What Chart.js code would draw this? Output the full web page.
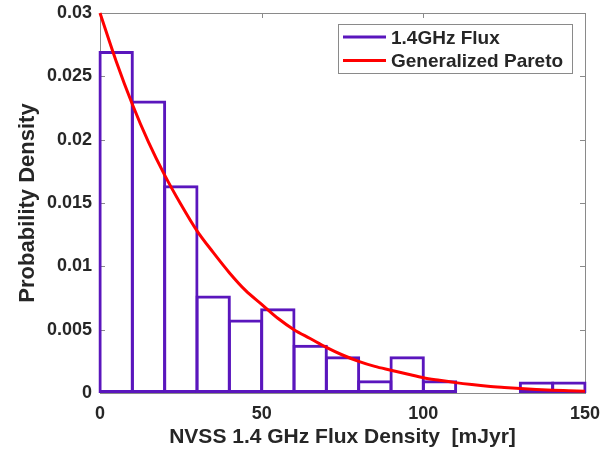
<!DOCTYPE html>
<html>
<head>
<meta charset="utf-8">
<title>NVSS 1.4 GHz flux density distribution</title>
<script src="https://cdn.jsdelivr.net/npm/chart.js@4/dist/chart.umd.min.js"></script>
<style>
  html, body { margin: 0; padding: 0; background: #fff; }
  canvas { display: block; }
</style>
</head>
<body>
<canvas id="fluxChart" width="603" height="449"></canvas>
<script>
// histogram bins (10 mJy wide) and their normalised counts
const binCenters = [5, 15, 25, 35, 45, 55, 65, 75, 85, 95, 105, 115, 125, 135, 145];
const fluxDensity = [0.0270, 0.0231, 0.0164, 0.0077, 0.0058, 0.0067, 0.0038, 0.0029,
                     0.0010, 0.0029, 0.0010, 0, 0, 0.0009, 0.0009];

// fitted generalized Pareto pdf, sampled every 5 mJy
const fitFlux = [0, 5, 10, 15, 20, 25, 30, 35, 40, 45, 50, 55, 60, 65, 70, 75, 80,
                 85, 90, 95, 100, 105, 110, 115, 120, 125, 130, 135, 140, 145, 150];
const fitDensity = [0.0300, 0.0262, 0.0228, 0.0198, 0.0172, 0.0149, 0.0128, 0.0111,
                    0.0095, 0.0081, 0.0070, 0.0059, 0.0050, 0.0043, 0.0036, 0.0030,
                    0.0025, 0.0021, 0.0018, 0.0015, 0.0012, 0.0010, 0.00082, 0.00067,
                    0.00054, 0.00044, 0.00035, 0.00028, 0.00022, 0.00018, 0.00014];

const xTicks = [0, 50, 100, 150];
const xTickLabels = ['0', '50', '100', '150'];
const yTicks = [0, 0.005, 0.01, 0.015, 0.02, 0.025, 0.03];
const yTickLabels = ['0', '0.005', '0.01', '0.015', '0.02', '0.025', '0.03'];

const seriesNames = ['1.4GHz Flux', 'Generalized Pareto'];

const histColor = '#5a16bd';
const fitColor = '#ff0000';
const axisColor = '#8a8a8a';
const textColor = '#262626';
const fontFamily = '"Liberation Sans", Arial, Helvetica, sans-serif';

// box around the plot with inward tick marks on all four sides
const axesBox = {
    id: 'axesBox',
    beforeDatasetsDraw(chart) {
        const ctx = chart.ctx;
        const a = chart.chartArea;
        const xs = chart.scales.x, ys = chart.scales.y;
        const len = 5;
        ctx.save();
        ctx.strokeStyle = axisColor;
        ctx.lineWidth = 1;
        ctx.strokeRect(Math.round(a.left) + 0.5, Math.round(a.top) + 0.5,
                       Math.round(a.right - a.left), Math.round(a.bottom - a.top));
        ctx.beginPath();
        xs.ticks.forEach(t => {
            const px = Math.round(xs.getPixelForValue(t.value)) + 0.5;
            ctx.moveTo(px, a.bottom); ctx.lineTo(px, a.bottom - len);
            ctx.moveTo(px, a.top); ctx.lineTo(px, a.top + len);
        });
        ys.ticks.forEach(t => {
            const py = Math.round(ys.getPixelForValue(t.value)) + 0.5;
            ctx.moveTo(a.left, py); ctx.lineTo(a.left + len, py);
            ctx.moveTo(a.right, py); ctx.lineTo(a.right - len, py);
        });
        ctx.stroke();
        ctx.restore();
    }
};

// legend drawn inside the top right corner of the plot
const insideLegend = {
    id: 'insideLegend',
    afterDraw(chart) {
        const ctx = chart.ctx;
        const a = chart.chartArea;
        const w = 234, h = 49;
        const x0 = a.right - 13 - w, y0 = a.top + 11;
        ctx.save();
        ctx.fillStyle = '#fff';
        ctx.fillRect(x0, y0, w, h);
        ctx.strokeStyle = axisColor;
        ctx.lineWidth = 1;
        ctx.strokeRect(x0 + 0.5, y0 + 0.5, w, h);
        ctx.font = 'bold 19px ' + fontFamily;
        ctx.textBaseline = 'middle';
        ctx.textAlign = 'left';
        chart.data.datasets.forEach((ds, i) => {
            const y = y0 + 13 + i * 23.5;
            ctx.strokeStyle = ds.borderColor;
            ctx.lineWidth = 3;
            ctx.beginPath();
            ctx.moveTo(x0 + 5, y);
            ctx.lineTo(x0 + 48, y);
            ctx.stroke();
            ctx.fillStyle = textColor;
            ctx.fillText(ds.label, x0 + 53, y + 1.5);
        });
        ctx.restore();
    }
};

const ctx = document.getElementById('fluxChart').getContext('2d');
const fluxChart = new Chart(ctx, {
    type: 'bar',
    data: {
        datasets: [{
            type: 'bar',
            label: seriesNames[0],
            data: binCenters.map((x, i) => ({ x: x, y: fluxDensity[i] })),
            backgroundColor: 'rgba(255,255,255,0)',
            borderColor: histColor,
            borderWidth: 3,
            borderSkipped: false,
            inflateAmount: 0,
            barPercentage: 1.093,
            categoryPercentage: 1,
            clip: 4,
            order: 2
        }, {
            type: 'line',
            label: seriesNames[1],
            data: fitFlux.map((x, i) => ({ x: x, y: fitDensity[i] })),
            borderColor: fitColor,
            borderWidth: 3,
            pointRadius: 0,
            fill: false,
            cubicInterpolationMode: 'monotone',
            clip: 4,
            order: 1
        }]
    },
    options: {
        responsive: false,
        animation: false,
        devicePixelRatio: 1,
        layout: { padding: { top: 13, right: 18, left: 0, bottom: 0 } },
        plugins: {
            legend: { display: false },
            tooltip: { enabled: false }
        },
        scales: {
            x: {
                type: 'linear',
                min: 0,
                max: 150,
                offset: false,
                grid: { display: false, drawTicks: false },
                border: { display: false },
                afterBuildTicks: s => { s.ticks = xTicks.map(v => ({ value: v })); },
                afterFit: s => {
                    s.height = 56;
                    s.paddingLeft = 0;
                    s.paddingRight = 0;
                },
                ticks: {
                    color: textColor,
                    font: { family: fontFamily, size: 18, weight: 'bold' },
                    padding: 10,
                    maxRotation: 0,
                    autoSkip: false,
                    callback: (v, i) => xTickLabels[i]
                },
                title: {
                    display: true,
                    text: 'NVSS 1.4 GHz Flux Density  [mJyr]',
                    color: textColor,
                    font: { family: fontFamily, size: 21, weight: 'bold', lineHeight: 1.1 },
                    padding: { top: 0, bottom: 0 }
                }
            },
            y: {
                type: 'linear',
                min: 0,
                max: 0.03,
                grid: { display: false, drawTicks: false },
                border: { display: false },
                afterBuildTicks: s => { s.ticks = yTicks.map(v => ({ value: v })); },
                afterFit: s => {
                    s.width = 100;
                    s.paddingTop = 0;
                    s.paddingBottom = 0;
                },
                ticks: {
                    color: textColor,
                    font: { family: fontFamily, size: 18, weight: 'bold' },
                    padding: 8,
                    autoSkip: false,
                    callback: (v, i) => yTickLabels[i]
                },
                title: {
                    display: true,
                    text: 'Probability Density',
                    color: textColor,
                    font: { family: fontFamily, size: 22, weight: 'bold', lineHeight: 1.1 },
                    padding: { top: 16, bottom: 0 }
                }
            }
        }
    },
    plugins: [axesBox, insideLegend]
});
</script>
</body>
</html>
